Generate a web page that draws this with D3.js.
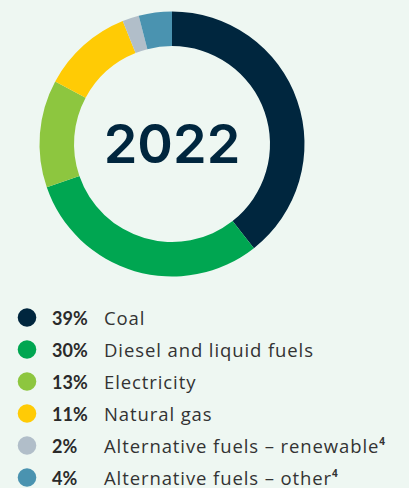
<!DOCTYPE html>
<html>
<head>
<meta charset="utf-8">
<script src="https://cdn.jsdelivr.net/npm/d3@7"></script>
<style>
	html, body { margin: 0; padding: 0; background: #eef7f2; }
	svg { display: block; }
</style>
</head>
<body>
<div id="chart"></div>
<script>
var year = '2022';
var categories = ['Coal', 'Diesel and liquid fuels', 'Electricity', 'Natural gas', 'Alternative fuels \u2013 renewable', 'Alternative fuels \u2013 other'];
var shares = [39, 30, 13, 11, 2, 4];
var footnotes = ['', '', '', '', '4', '4'];
var colors = ['#00263e', '#00a651', '#8dc63f', '#ffcb05', '#b1bec9', '#4a93b0'];

var width = 409, height = 488,
	cx = 172, cy = 144, outer = 132.5, inner = 98;

var svg = d3.select('#chart').append('svg')
	.attr('width', width)
	.attr('height', height);

svg.append('rect').attr('width', width).attr('height', height).attr('fill', '#eef7f2');

var data = categories.map(function (d, i) { return {name: d, value: shares[i], color: colors[i], note: footnotes[i]}; });

var pie = d3.pie().sort(null).value(function (d) { return d.value; });
var arc = d3.arc().innerRadius(inner).outerRadius(outer);

var donut = svg.append('g').attr('transform', 'translate(' + cx + ',' + cy + ')');

donut.selectAll('path').data(pie(data)).enter().append('path')
	.attr('d', arc)
	.style('fill', function (d) { return d.data.color; });

donut.append('text')
	.attr('text-anchor', 'middle')
	.attr('y', 18.5)
	.style('font-family', 'Inter, "Noto Sans", sans-serif')
	.style('font-weight', 600)
	.style('font-size', '54px')
	.style('fill', '#00263e')
	.text(year);

// legend
var y = d3.scaleBand().domain(categories).range([301.5, 301.5 + 32 * categories.length]);

var rows = svg.append('g').selectAll('g').data(data).enter().append('g')
	.attr('transform', function (d) { return 'translate(0,' + (y(d.name) + y.bandwidth() / 2) + ')'; });

rows.append('circle')
	.attr('cx', 27)
	.attr('r', 9.3)
	.style('fill', function (d) { return d.color; });

rows.append('text')
	.attr('x', 52)
	.attr('y', 7)
	.style('font-family', 'Lato, "Noto Sans", sans-serif')
	.style('font-weight', 700)
	.style('font-size', '18px')
	.style('fill', '#2a2a2a')
	.text(function (d) { return d.value + '%'; });

var label = rows.append('text')
	.attr('x', 104)
	.attr('y', 7)
	.style('font-family', '"Open Sans", "Noto Sans", sans-serif')
	.style('font-weight', 400)
	.style('font-size', '18.5px')
	.style('letter-spacing', '0.9px')
	.style('fill', '#333')
	.text(function (d) { return d.name; });

label.filter(function (d) { return d.note; }).append('tspan')
	.attr('dy', -8)
	.style('font-size', '10px')
	.style('font-weight', 700)
	.style('letter-spacing', '0px')
	.text(function (d) { return d.note; });
</script>
</body>
</html>
